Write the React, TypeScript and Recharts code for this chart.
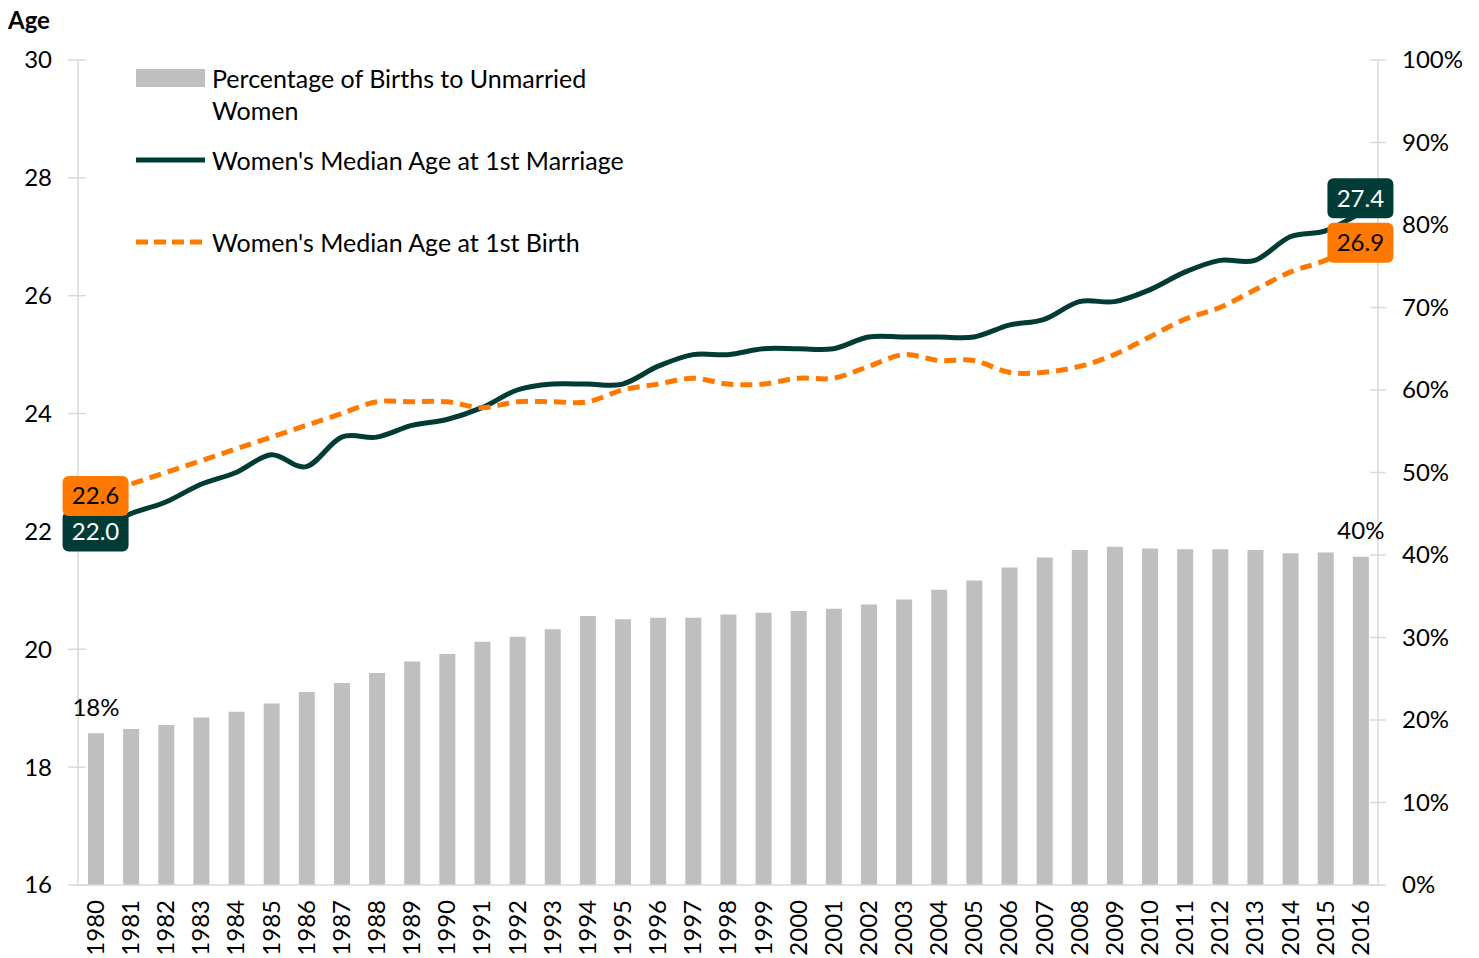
import React from 'react';
import { ComposedChart, Bar, Line, XAxis, YAxis, LabelList } from 'recharts';

const years = [
  1980, 1981, 1982, 1983, 1984, 1985, 1986, 1987, 1988, 1989, 1990, 1991, 1992,
  1993, 1994, 1995, 1996, 1997, 1998, 1999, 2000, 2001, 2002, 2003, 2004, 2005,
  2006, 2007, 2008, 2009, 2010, 2011, 2012, 2013, 2014, 2015, 2016,
];

// % of births to unmarried women
const unmarriedPct = [
  18.4, 18.9, 19.4, 20.3, 21.0, 22.0, 23.4, 24.5, 25.7, 27.1, 28.0, 29.5, 30.1,
  31.0, 32.6, 32.2, 32.4, 32.4, 32.8, 33.0, 33.2, 33.5, 34.0, 34.6, 35.8, 36.9,
  38.5, 39.7, 40.6, 41.0, 40.8, 40.7, 40.7, 40.6, 40.2, 40.3, 39.8,
];

// women's median age at 1st marriage
const ageMarriage = [
  22.0, 22.3, 22.5, 22.8, 23.0, 23.3, 23.1, 23.6, 23.6, 23.8, 23.9, 24.1, 24.4,
  24.5, 24.5, 24.5, 24.8, 25.0, 25.0, 25.1, 25.1, 25.1, 25.3, 25.3, 25.3, 25.3,
  25.5, 25.6, 25.9, 25.9, 26.1, 26.4, 26.6, 26.6, 27.0, 27.1, 27.4,
];

// women's median age at 1st birth
const ageBirth = [
  22.6, 22.8, 23.0, 23.2, 23.4, 23.6, 23.8, 24.0, 24.2, 24.2, 24.2, 24.1, 24.2,
  24.2, 24.2, 24.4, 24.5, 24.6, 24.5, 24.5, 24.6, 24.6, 24.8, 25.0, 24.9, 24.9,
  24.7, 24.7, 24.8, 25.0, 25.3, 25.6, 25.8, 26.1, 26.4, 26.6, 26.9,
];

const ageTicks = [16, 18, 20, 22, 24, 26, 28, 30];
const pctTicks = [0, 10, 20, 30, 40, 50, 60, 70, 80, 90, 100];

const data = years.map((y, i) => ({
  year: String(y),
  pct: unmarriedPct[i],
  marriage: ageMarriage[i],
  birth: ageBirth[i],
}));

const FONT = 'Lato, "Open Sans", sans-serif';
const FS = 24;
const DARK = '#003B36';
const ORANGE = '#FF7800';
const BAR = '#BFBFBF';
const AXIS = '#D9D9D9';
const last = years.length - 1;

// Excel-like smoothed line (Catmull-Rom style bezier through every point)
const excelSmooth = (context: any) => {
  let pts: [number, number][] = [];
  return {
    areaStart() {},
    areaEnd() {},
    lineStart() {
      pts = [];
    },
    point(x: number, y: number) {
      pts.push([+x, +y]);
    },
    lineEnd() {
      if (!pts.length) return;
      context.moveTo(pts[0][0], pts[0][1]);
      for (let i = 0; i < pts.length - 1; i++) {
        const p0 = pts[Math.max(0, i - 1)];
        const p1 = pts[i];
        const p2 = pts[i + 1];
        const p3 = pts[Math.min(pts.length - 1, i + 2)];
        context.bezierCurveTo(
          p1[0] + (p2[0] - p0[0]) / 6,
          p1[1] + (p2[1] - p0[1]) / 6,
          p2[0] - (p3[0] - p1[0]) / 6,
          p2[1] - (p3[1] - p1[1]) / 6,
          p2[0],
          p2[1],
        );
      }
    },
  };
};

const LeftTick = (props: any) => {
  const { x, y, payload } = props;
  return (
    <g>
      <line x1={x + 16} x2={x + 34} y1={y} y2={y} stroke={AXIS} strokeWidth={1.5} />
      <text x={x} y={y} dy="0.35em" textAnchor="end" fontSize={FS} fill="#000" fontFamily={FONT}>
        {payload.value}
      </text>
    </g>
  );
};

const RightTick = (props: any) => {
  const { x, y, payload } = props;
  return (
    <g>
      <line x1={x - 32} x2={x - 16} y1={y} y2={y} stroke={AXIS} strokeWidth={1.5} />
      <text x={x} y={y} dy="0.35em" textAnchor="start" fontSize={FS} fill="#000" fontFamily={FONT}>
        {payload.value}%
      </text>
    </g>
  );
};

const YearTick = (props: any) => {
  const { x, y, payload } = props;
  return (
    <text
      x={x}
      y={y}
      transform={`rotate(-90, ${x}, ${y})`}
      dy="0.35em"
      textAnchor="end"
      fontSize={FS}
      fill="#000"
      fontFamily={FONT}
    >
      {payload.value}
    </text>
  );
};

const boxLabel = (fill: string, color: string, shiftLast: number) => (props: any) => {
  const { x, y, value, index } = props;
  if (index !== 0 && index !== last) return null;
  const cy = index === last ? y + shiftLast : y;
  return (
    <g>
      <rect x={x - 33} y={cy - 20} width={66} height={40} rx={6} fill={fill} />
      <text x={x} y={cy} dy="0.35em" textAnchor="middle" fontSize={FS} fill={color} fontFamily={FONT}>
        {Number(value).toFixed(1)}
      </text>
    </g>
  );
};

const pctLabel = (props: any) => {
  const { x, y, width, value, index } = props;
  if (index !== 0 && index !== last) return null;
  return (
    <text x={x + width / 2} y={y - 26} dy="0.35em" textAnchor="middle" fontSize={FS} fill="#000" fontFamily={FONT}>
      {Math.round(value)}%
    </text>
  );
};

const LegendBox = () => (
  <div
    style={{
      position: 'absolute',
      left: 136,
      top: 62,
      width: 520,
      height: 200,
      fontFamily: FONT,
      fontSize: 25,
      color: '#000',
    }}
  >
    <div style={{ position: 'absolute', left: 0, top: 7, width: 69, height: 18, background: BAR }} />
    <div style={{ position: 'absolute', left: 76, top: 0, lineHeight: '32px', whiteSpace: 'nowrap' }}>
      Percentage of Births to Unmarried
      <br />
      Women
    </div>
    <svg style={{ position: 'absolute', left: 0, top: 88 }} width={70} height={20}>
      <line x1={0} x2={69} y1={10} y2={10} stroke={DARK} strokeWidth={5} />
    </svg>
    <div style={{ position: 'absolute', left: 76, top: 82, lineHeight: '32px', whiteSpace: 'nowrap' }}>
      Women's Median Age at 1st Marriage
    </div>
    <svg style={{ position: 'absolute', left: 0, top: 170 }} width={70} height={20}>
      <line x1={0} x2={69} y1={10} y2={10} stroke={ORANGE} strokeWidth={5} strokeDasharray="12 6" />
    </svg>
    <div style={{ position: 'absolute', left: 76, top: 164, lineHeight: '32px', whiteSpace: 'nowrap' }}>
      Women's Median Age at 1st Birth
    </div>
  </div>
);

export default function App() {
  return (
    <div style={{ position: 'absolute', left: 0, top: 0, width: 1479, height: 958, background: '#fff' }}>
      <div
        style={{
          position: 'absolute',
          left: 8,
          top: 7,
          fontFamily: FONT,
          fontWeight: 700,
          fontSize: FS,
          lineHeight: '26px',
        }}
      >
        Age
      </div>
      <ComposedChart
        width={1479}
        height={958}
        data={data}
        margin={{ top: 60, right: 0, bottom: 0, left: 0 }}
        barCategoryGap={0}
      >
        <XAxis
          dataKey="year"
          interval={0}
          height={73}
          tickSize={0}
          tickMargin={15}
          tickLine={false}
          axisLine={{ stroke: AXIS, strokeWidth: 1.5 }}
          tick={<YearTick />}
        />
        <YAxis
          yAxisId="age"
          orientation="left"
          width={78}
          domain={[16, 30]}
          ticks={ageTicks}
          interval={0}
          tickSize={0}
          tickMargin={26}
          tickLine={false}
          axisLine={{ stroke: AXIS, strokeWidth: 1.5 }}
          tick={<LeftTick />}
        />
        <YAxis
          yAxisId="pct"
          orientation="right"
          width={101}
          domain={[0, 100]}
          ticks={pctTicks}
          interval={0}
          tickSize={0}
          tickMargin={24}
          tickLine={false}
          axisLine={{ stroke: AXIS, strokeWidth: 1.5 }}
          tick={<RightTick />}
        />
        <Bar yAxisId="pct" dataKey="pct" fill={BAR} barSize={16} isAnimationActive={false}>
          <LabelList dataKey="pct" content={pctLabel} />
        </Bar>
        <Line
          yAxisId="age"
          type={excelSmooth as any}
          dataKey="marriage"
          stroke={DARK}
          strokeWidth={5}
          dot={false}
          isAnimationActive={false}
        >
          <LabelList dataKey="marriage" content={boxLabel(DARK, '#fff', -15)} />
        </Line>
        <Line
          yAxisId="age"
          type={excelSmooth as any}
          dataKey="birth"
          stroke={ORANGE}
          strokeWidth={5}
          strokeDasharray="12 7"
          dot={false}
          isAnimationActive={false}
        >
          <LabelList dataKey="birth" content={boxLabel(ORANGE, '#000', 0)} />
        </Line>
      </ComposedChart>
      <LegendBox />
    </div>
  );
}
